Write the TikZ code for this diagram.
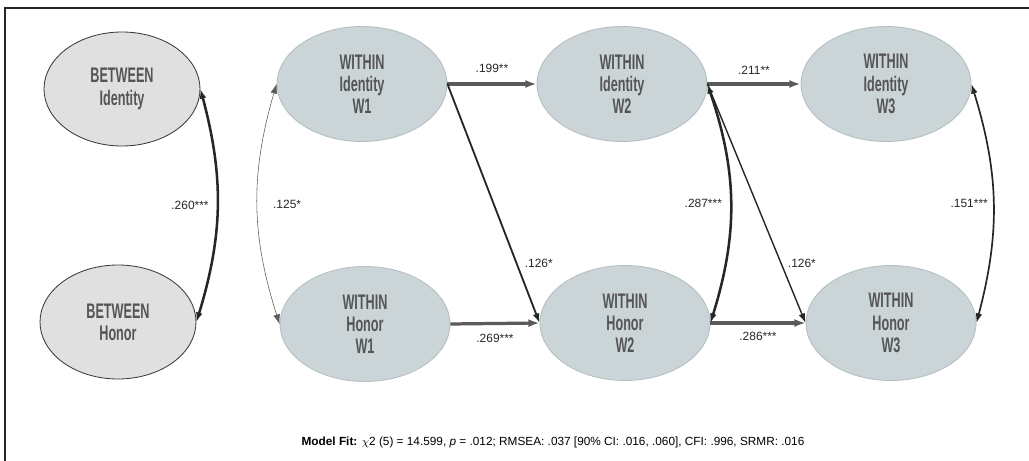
\documentclass[tikz,border=0pt]{standalone}
\usepackage{fontspec}
\setmainfont{Liberation Sans}
\newfontfamily\gothic[FakeStretch=0.6]{Liberation Sans Bold}
\usepackage{tikz}
\usetikzlibrary{arrows.meta}
\usetikzlibrary{shapes}
\usetikzlibrary{calc}

\definecolor{withinfill}{HTML}{CBD5D7}
\definecolor{withinline}{HTML}{B3BFC2}
\definecolor{betweenfill}{HTML}{E0E0E0}
\definecolor{betweenline}{HTML}{3C3C3C}
\definecolor{nodetext}{HTML}{555555}
\definecolor{pathgray}{HTML}{5A5A5A}
\definecolor{pathdark}{HTML}{262626}

\begin{document}
\begin{tikzpicture}[
  latent/.style={ellipse, inner sep=0pt, align=center, text=nodetext,
    font=\gothic\fontsize{15}{15.8}\selectfont},
  between/.style={latent, draw=betweenline, line width=0.6pt, fill=betweenfill,
    minimum width=3.9cm, minimum height=2.85cm},
  within/.style={latent, draw=withinline, line width=0.6pt, fill=withinfill,
    minimum width=4.25cm, minimum height=2.875cm},
  coef/.style={font=\fontsize{8.5}{10}\selectfont, text=black!85, inner sep=1pt},
  stab/.style={-{Latex[length=2.8mm,width=2mm]}, draw=pathgray, line width=2.3pt},
  cross/.style={-{Latex[length=2.4mm,width=1.7mm]}, draw=pathdark, line width=1.3pt},
  covar/.style={{Latex[length=2.4mm,width=1.7mm]}-{Latex[length=2.4mm,width=1.7mm]}, draw=pathdark},
]
\useasboundingbox (0,0) rectangle (25.725,11.525);
\draw[pathdark, line width=0.9pt] (0.125,0) -- (0.125,11.325) -- (25.725,11.325);

% between level
\node[between] (bid) at (3.05,9.3) {BETWEEN\\Identity};
\node[between] (bhon) at (2.95,3.475) {BETWEEN\\Honor};

% within level
\node[within] (wid1) at (9.05,9.425) {WITHIN\\Identity\\W1};
\node[within] (whon1) at (9.125,3.425) {WITHIN\\Honor\\W1};
\node[within] (wid2) at (15.55,9.425) {WITHIN\\Identity\\W2};
\node[within] (whon2) at (15.625,3.45) {WITHIN\\Honor\\W2};
\node[within] (wid3) at (22.15,9.425) {WITHIN\\Identity\\W3};
\node[within] (whon3) at (22.275,3.45) {WITHIN\\Honor\\W3};

\draw[covar, line width=1.8pt] (bid.east) to[bend left=16]
  node[coef, left=1.5mm, pos=0.5] (c260) {.260***} (bhon.east);
\draw[covar, line width=0.4pt, draw=pathgray] (wid1.west) to[bend right=17]
  node[coef, right=3.5mm, pos=0.5] (c125) {.125*} (whon1.west);
\draw[covar, line width=1.8pt] (wid2.east) to[bend left=18]
  node[coef, left=1.5mm, pos=0.5] (c287) {.287***} (whon2.east);
\draw[covar, line width=1.2pt] (wid3.east) to[bend left=16]
  node[coef, left=0.8mm, pos=0.5] (c151) {.151***} (whon3.east);

\draw[stab] (wid1.east) -- node[coef, above=2mm] (c199) {.199**} (wid2.west);
\draw[stab] (whon1.east) -- node[coef, below=2mm] (c269) {.269***} (whon2.west);
\draw[stab] (wid2.east) -- node[coef, above=1.5mm] (c211) {.211**} (wid3.west);
\draw[stab] (whon2.east) -- node[coef, below=1.5mm] (c286) {.286***} (whon3.west);

\draw[cross] (wid1.east) -- node[coef, right=1.5mm, pos=0.75] (c126a) {.126*} (whon2.west);
\draw[cross, line width=1pt] (wid2.east) -- node[coef, right=1.2mm, pos=0.75] (c126b) {.126*} (whon3.west);

\node[font=\fontsize{8.4}{10}\selectfont] (fit) at (13.825,0.475)
  {\textbf{Model Fit:} $\chi$2 (5) = 14.599, \textit{p} = .012; RMSEA: .037 [90\% CI: .016, .060], CFI: .996, SRMR: .016};
\end{tikzpicture}
\end{document}
